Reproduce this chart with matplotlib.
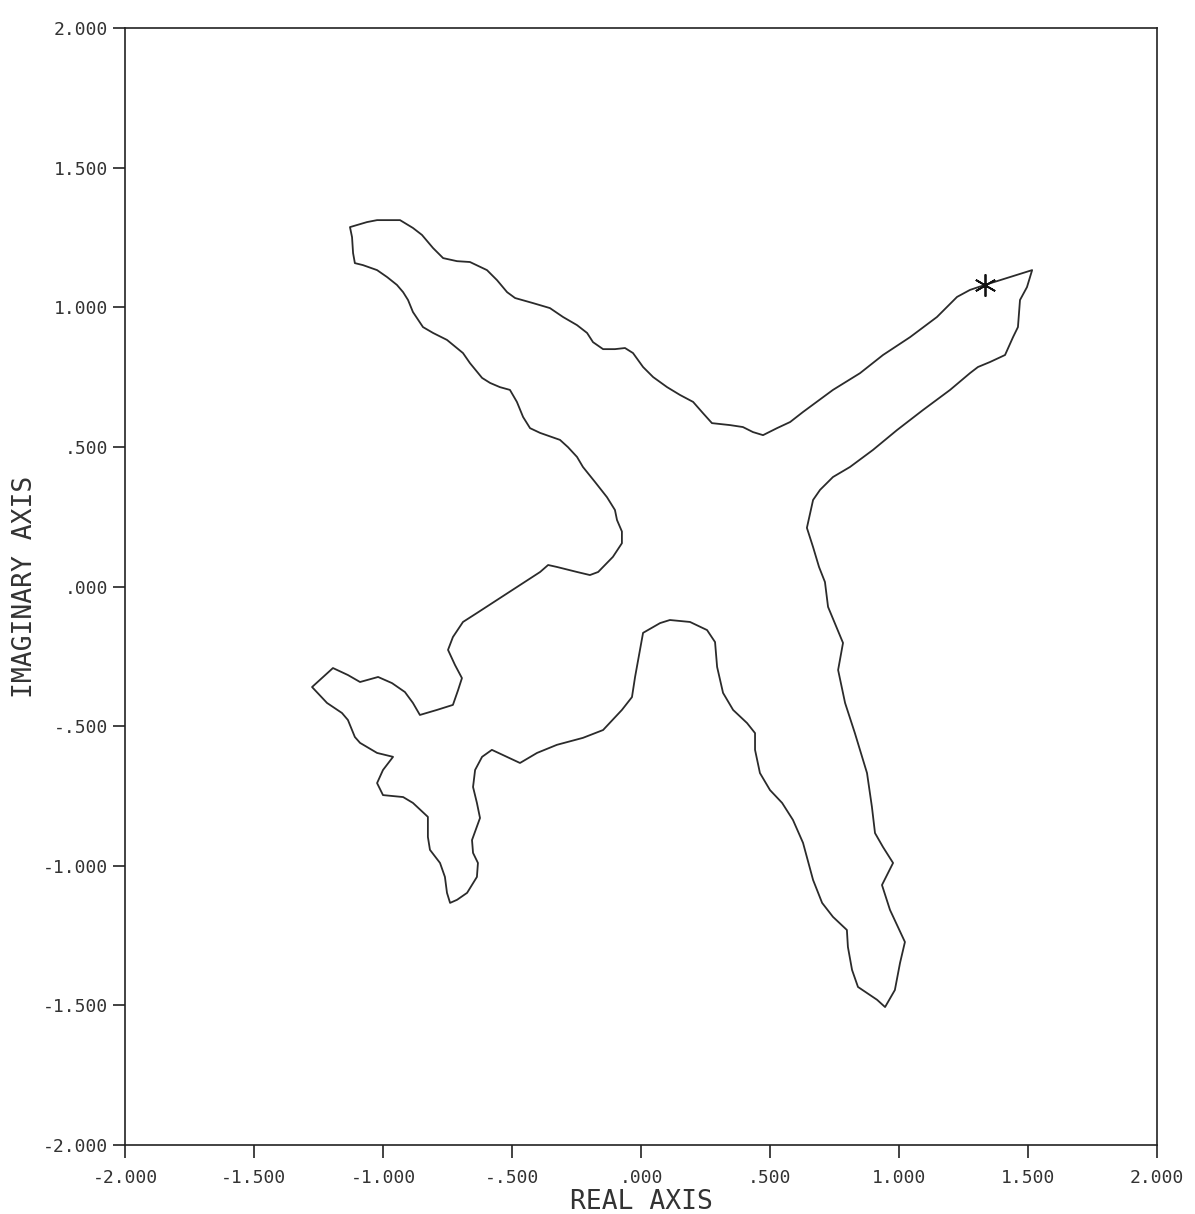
import numpy as np
from matplotlib import pyplot as plt

# boundary, real and imaginary parts
real_part = [
    1.333, 1.516, 1.496, 1.469, 1.461, 1.442, 1.411, 1.353, 1.306, 1.275,
    1.198, 1.093, 0.992, 0.899, 0.810, 0.744, 0.694, 0.667, 0.643, 0.667,
    0.690, 0.713, 0.725, 0.783, 0.764, 0.791, 0.829, 0.876, 0.895, 0.907,
    0.938, 0.977, 0.934, 0.965, 1.023, 1.004, 0.984, 0.946, 0.915, 0.841,
    0.818, 0.802, 0.798, 0.744, 0.702, 0.667, 0.628, 0.589, 0.547, 0.500,
    0.461, 0.442, 0.442, 0.411, 0.357, 0.318, 0.295, 0.287, 0.256, 0.190,
    0.112, 0.074, 0.008, -0.004, -0.023, -0.035, -0.074, -0.147, -0.225, -0.326,
    -0.403, -0.469, -0.578, -0.616, -0.643, -0.651, -0.636, -0.624, -0.655, -0.651,
    -0.632, -0.636, -0.674, -0.713, -0.740, -0.752, -0.760, -0.779, -0.818, -0.826,
    -0.826, -0.884, -0.922, -1.000, -1.023, -1.000, -0.961, -1.023, -1.089, -1.109,
    -1.136, -1.159, -1.217, -1.275, -1.194, -1.136, -1.089, -1.019, -0.965, -0.915,
    -0.884, -0.857, -0.791, -0.729, -0.709, -0.694, -0.721, -0.748, -0.729, -0.690,
    -0.636, -0.558, -0.481, -0.391, -0.360, -0.326, -0.248, -0.198, -0.166, -0.109,
    -0.074, -0.074, -0.093, -0.101, -0.132, -0.178, -0.225, -0.248, -0.283, -0.314,
    -0.391, -0.430, -0.457, -0.481, -0.508, -0.547, -0.585, -0.616, -0.663, -0.690,
    -0.752, -0.806, -0.845, -0.884, -0.903, -0.922, -0.946, -0.984, -1.023, -1.078,
    -1.109, -1.116, -1.120, -1.128, -1.062, -1.023, -0.934, -0.884, -0.849, -0.806,
    -0.767, -0.713, -0.663, -0.597, -0.558, -0.519, -0.488, -0.419, -0.353, -0.302,
    -0.248, -0.209, -0.186, -0.147, -0.101, -0.062, -0.031, 0.008, 0.047, 0.101,
    0.151, 0.202, 0.240, 0.275, 0.345, 0.395, 0.434, 0.473, 0.527, 0.578,
    0.628, 0.744, 0.849, 0.938, 1.043, 1.147, 1.225, 1.275, 1.333,
]
imag_part = [
    1.080, 1.133, 1.072, 1.026, 0.929, 0.893, 0.829, 0.804, 0.786, 0.764,
    0.704, 0.632, 0.560, 0.489, 0.428, 0.392, 0.346, 0.310, 0.210, 0.141,
    0.070, 0.016, -0.073, -0.202, -0.299, -0.417, -0.525, -0.668, -0.789, -0.883,
    -0.933, -0.990, -1.069, -1.158, -1.273, -1.348, -1.445, -1.506, -1.480, -1.434,
    -1.373, -1.291, -1.230, -1.183, -1.133, -1.051, -0.918, -0.836, -0.775, -0.729,
    -0.668, -0.585, -0.525, -0.489, -0.442, -0.381, -0.288, -0.199, -0.156, -0.127,
    -0.120, -0.131, -0.166, -0.227, -0.324, -0.396, -0.442, -0.514, -0.542, -0.567,
    -0.596, -0.632, -0.585, -0.610, -0.657, -0.718, -0.775, -0.829, -0.908, -0.954,
    -0.990, -1.040, -1.097, -1.122, -1.133, -1.097, -1.040, -0.990, -0.943, -0.897,
    -0.825, -0.775, -0.754, -0.747, -0.704, -0.657, -0.610, -0.596, -0.560, -0.539,
    -0.478, -0.453, -0.417, -0.360, -0.292, -0.317, -0.342, -0.324, -0.346, -0.378,
    -0.417, -0.460, -0.442, -0.424, -0.371, -0.328, -0.281, -0.227, -0.181, -0.127,
    -0.095, -0.048, -0.002, 0.052, 0.077, 0.070, 0.052, 0.041, 0.052, 0.106,
    0.155, 0.197, 0.238, 0.274, 0.320, 0.374, 0.428, 0.464, 0.499, 0.525,
    0.550, 0.567, 0.607, 0.661, 0.704, 0.714, 0.729, 0.747, 0.800, 0.836,
    0.883, 0.908, 0.929, 0.983, 1.026, 1.054, 1.080, 1.108, 1.133, 1.151,
    1.158, 1.194, 1.251, 1.287, 1.305, 1.312, 1.312, 1.284, 1.259, 1.212,
    1.176, 1.165, 1.162, 1.133, 1.097, 1.054, 1.033, 1.015, 0.997, 0.965,
    0.936, 0.908, 0.875, 0.850, 0.850, 0.854, 0.836, 0.786, 0.750, 0.714,
    0.686, 0.661, 0.621, 0.585, 0.578, 0.571, 0.553, 0.542, 0.567, 0.589,
    0.625, 0.704, 0.764, 0.829, 0.893, 0.965, 1.037, 1.062, 1.080,
]
start_point = (1.333, 1.080)

tick_values = [-2.0, -1.5, -1.0, -0.5, 0.0, 0.5, 1.0, 1.5, 2.0]
x_tick_labels = ["-2.000", "-1.500", "-1.000", "-.500", ".000", ".500", "1.000", "1.500", "2.000"]
y_tick_labels = ["-2.000", "-1.500", "-1.000", "-.500", ".000", ".500", "1.000", "1.500", "2.000"]

plt.rcParams['font.family'] = ['DejaVu Sans Mono', 'DejaVu Sans']

fig = plt.figure(figsize=(11.95, 12.14), dpi=100)
ax = fig.add_axes([125 / 1195, 1 - 1145 / 1214, 1032 / 1195, 1117 / 1214])

ax.plot(real_part, imag_part, color="#2b2b2b", linewidth=1.3)
ax.plot(*start_point, marker=(6, 2, 0), markersize=16, color="#111111", markeredgewidth=1.3)

ax.set_xlim(-2, 2)
ax.set_ylim(-2, 2)
ax.set_xticks(tick_values)
ax.set_xticklabels(x_tick_labels)
ax.set_yticks(tick_values)
ax.set_yticklabels(y_tick_labels)
ax.tick_params(direction="out", length=9, width=1.2, colors="#222222",
               labelsize=13, labelcolor="#333333")
ax.tick_params(axis="x", pad=8)
ax.tick_params(axis="y", pad=3)
for spine in ax.spines.values():
    spine.set_linewidth(1.2)
    spine.set_color("#222222")

ax.set_xlabel("REAL AXIS", fontsize=19, color="#333333", labelpad=2)
ax.set_ylabel("IMAGINARY AXIS", fontsize=19, color="#333333", labelpad=4)

fig.savefig("out.png", dpi=100)
